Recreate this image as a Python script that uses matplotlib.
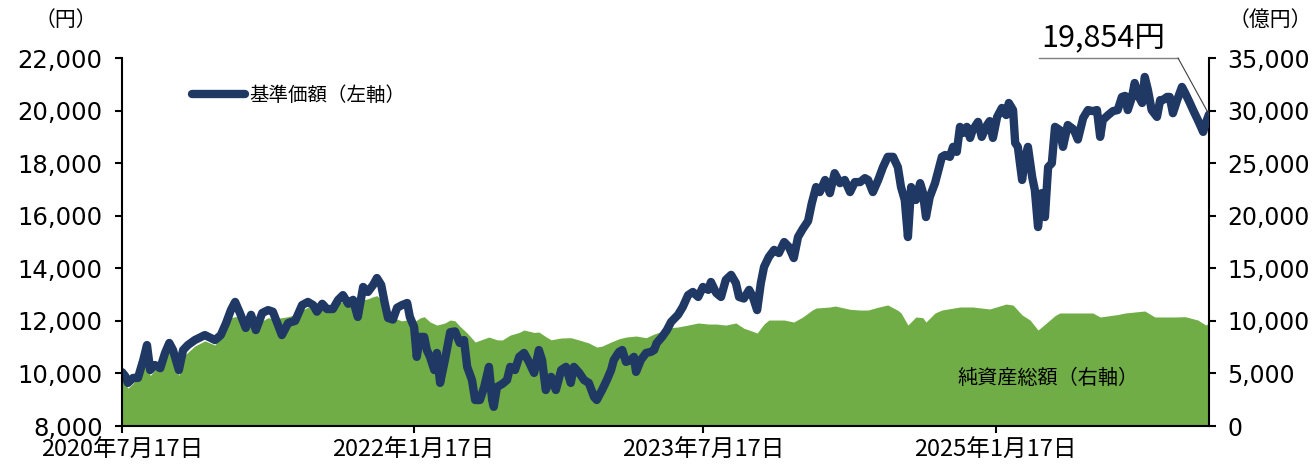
import pandas as pd
import matplotlib
matplotlib.use("Agg")
import matplotlib.pyplot as plt
from matplotlib.ticker import FuncFormatter

plt.rcParams['font.family'] = ['Noto Sans CJK JP', 'DejaVu Sans']

start = pd.Timestamp("2020-07-17")

# 基準価額 (円) : 設定日からの経過日数と値
price_days = [
    0, 6, 11, 21, 30, 40, 47, 53, 62, 72, 81, 89, 96, 107, 115, 124, 137, 156, 175, 186,
    196, 205, 213, 222, 233, 243, 252, 264, 275, 284, 301, 313, 326, 339, 350, 360, 367, 377, 386, 397,
    407, 416, 426, 435, 444, 454, 463, 473, 480, 488, 495, 501, 510, 518, 527, 537, 542, 550, 555, 561,
    569, 574, 580, 588, 593, 599, 608, 618, 627, 636, 644, 650, 659, 665, 674, 682, 691, 697, 700, 706,
    716, 725, 731, 740, 748, 757, 766, 776, 785, 791, 798, 808, 817, 827, 836, 845, 851, 861, 870, 879,
    889, 894, 904, 913, 921, 926, 936, 942, 949, 958, 964, 968, 977, 987, 996, 1002, 1007, 1017, 1026, 1034,
    1047, 1056, 1066, 1075, 1085, 1094, 1104, 1109, 1119, 1128, 1137, 1147, 1156, 1162, 1171, 1181, 1188, 1196, 1203, 1209,
    1218, 1228, 1237, 1247, 1256, 1265, 1273, 1282, 1292, 1299, 1307, 1314, 1324, 1333, 1342, 1352, 1361, 1371, 1380, 1390,
    1399, 1405, 1414, 1424, 1433, 1442, 1452, 1461, 1467, 1474, 1480, 1486, 1495, 1503, 1508, 1514, 1521, 1531, 1536, 1544,
    1550, 1559, 1565, 1572, 1578, 1584, 1591, 1597, 1602, 1612, 1619, 1629, 1634, 1640, 1648, 1657, 1665, 1670, 1678, 1682,
    1687, 1695, 1700, 1706, 1714, 1719, 1725, 1732, 1738, 1744, 1751, 1757, 1766, 1772, 1781, 1791, 1795, 1800, 1810, 1819,
    1828, 1836, 1842, 1847, 1857, 1866, 1875, 1883, 1889, 1894, 1902, 1907, 1915, 1921, 1926, 1932, 1939, 1949, 1955, 1960,
    1968, 1973, 1979, 1987, 1996, 2002, 2011, 2017, 2026, 2036, 2041, 2047,
]
price = [
    10050, 9900, 9640, 9830, 9830, 10510, 11080, 10130, 10320, 10200, 10780, 11160, 10890, 10130, 10890, 11080, 11270, 11460, 11270, 11460,
    11920, 12410, 12720, 12300, 11730, 12230, 11650, 12300, 12410, 12350, 11460, 11920, 12000, 12600, 12720, 12600, 12350, 12650, 12450, 12450,
    12800, 12980, 12650, 12800, 12150, 13290, 13100, 13370, 13630, 13370, 12650, 12110, 12050, 12500, 12600, 12680, 12150, 11770, 10630, 11390,
    11390, 10890, 10630, 10130, 10780, 9640, 10510, 11570, 11600, 11160, 11270, 10250, 9750, 8990, 8990, 9480, 10250, 8990, 8730, 9480,
    9600, 9750, 10250, 10130, 10630, 10780, 10450, 10020, 10890, 10510, 9370, 9870, 9370, 10130, 10250, 9640, 10250, 10020, 9750, 9640,
    9100, 8990, 9370, 9750, 10130, 10510, 10820, 10890, 10440, 10510, 10630, 10060, 10510, 10780, 10820, 10890, 11160, 11390, 11650, 11960,
    12230, 12530, 12980, 13100, 12910, 13290, 13180, 13480, 13060, 12910, 13560, 13750, 13440, 12910, 12850, 13180, 12910, 12410, 13440, 14050,
    14430, 14700, 14580, 15000, 14810, 14390, 15190, 15500, 15800, 16480, 17090, 16900, 17360, 16860, 17620, 17240, 17360, 16900, 17280, 17280,
    17430, 17360, 16900, 17360, 17850, 18240, 18240, 17850, 17090, 16600, 15190, 17090, 16600, 17240, 16900, 15950, 16710, 17240, 17620, 18240,
    18310, 18240, 18620, 18430, 19380, 19150, 19380, 18960, 19260, 19570, 19000, 19450, 19600, 18960, 19760, 20100, 19830, 20290, 20020, 18770,
    18620, 17360, 18120, 18620, 17470, 16980, 15570, 16860, 15950, 17850, 18000, 19380, 19260, 18620, 19450, 19300, 19150, 18900, 19720, 20020,
    19980, 20020, 19000, 19640, 19830, 19980, 20020, 20520, 20560, 20020, 20520, 21050, 20520, 20290, 21280, 20780, 20020, 19760, 20400, 20400,
    20520, 20520, 19900, 20400, 20900, 20670, 20290, 20020, 19640, 19190, 19530, 19854,
]

# 純資産総額 (億円)
assets_days = [
    0, 11, 21, 40, 47, 53, 62, 81, 89, 96, 107, 115, 137, 156, 175, 196, 205, 213, 222, 233,
    243, 252, 264, 275, 284, 301, 313, 326, 339, 350, 360, 367, 377, 386, 397, 407, 416, 426, 435, 444,
    454, 463, 473, 480, 488, 495, 501, 510, 527, 537, 550, 561, 569, 580, 593, 608, 618, 627, 636, 650,
    665, 682, 691, 706, 716, 731, 748, 757, 776, 785, 798, 808, 827, 845, 861, 879, 894, 904, 921, 936,
    949, 968, 987, 1002, 1017, 1026, 1047, 1066, 1085, 1104, 1119, 1137, 1156, 1171, 1188, 1196, 1209, 1218, 1247, 1265,
    1282, 1299, 1307, 1333, 1343, 1371, 1390, 1405, 1424, 1442, 1461, 1467, 1480, 1495, 1508, 1514, 1531, 1544, 1578, 1602,
    1634, 1665, 1678, 1695, 1710, 1725, 1732, 1757, 1766, 1791, 1800, 1828, 1842, 1875, 1889, 1926, 1945, 1983, 2002, 2026,
    2041, 2047,
]
assets = [
    4600, 3600, 4050, 5700, 6400, 4800, 5300, 6400, 7300, 6700, 4800, 6600, 7600, 8100, 7700, 9200, 10300, 10400, 10370, 9300,
    9800, 9200, 10000, 10300, 10200, 10300, 10400, 10600, 11000, 11300, 11200, 11000, 11400, 11300, 11300, 11700, 11800, 11500, 11700, 11300,
    12000, 12100, 12300, 12400, 12000, 11500, 11000, 10300, 10000, 10100, 9900, 10270, 10400, 9900, 9600, 9800, 10080, 10000, 9500, 8840,
    7990, 8300, 8460, 8200, 8180, 8650, 8900, 9130, 8900, 8940, 8500, 8200, 8370, 8400, 8180, 7900, 7510, 7600, 7990, 8300,
    8460, 8560, 8400, 8750, 9000, 9320, 9420, 9600, 9800, 9700, 9700, 9600, 9800, 9300, 9000, 8840, 9700, 10080, 10080, 9890,
    10370, 11000, 11220, 11320, 11410, 11100, 11030, 11030, 11300, 11510, 11000, 10750, 9600, 10370, 10300, 9890, 10750, 11030, 11320, 11320,
    11130, 11600, 11500, 10560, 10080, 9130, 9420, 10500, 10750, 10750, 10750, 10750, 10370, 10600, 10750, 10940, 10370, 10370, 10400, 10080,
    9600, 9800,
]

tick_dates = ["2020-07-17", "2022-01-17", "2023-07-17", "2025-01-17"]

price_dates = start + pd.to_timedelta(price_days, unit="D")
assets_dates = start + pd.to_timedelta(assets_days, unit="D")

navy = "#1F3864"
green = "#70AD47"

fig = plt.figure(figsize=(13.15, 4.66), dpi=100)
ax = fig.add_axes([0.0928, 0.0858, 0.8266, 0.7897])
ax2 = ax.twinx()

ax2.fill_between(assets_dates, assets, 0, color=green, lw=0)
ax.plot(price_dates, price, color=navy, lw=6, solid_capstyle="round", solid_joinstyle="round",
        label="基準価額（左軸）")

ax.set_zorder(ax2.get_zorder() + 1)
ax.patch.set_visible(False)

ax.set_xlim(price_dates[0], price_dates[-1])
ax.set_ylim(8000, 22000)
ax2.set_ylim(0, 35000)
ax.set_yticks(range(8000, 22001, 2000))
ax2.set_yticks(range(0, 35001, 5000))
fmt = FuncFormatter(lambda v, p: f"{int(v):,}")
ax.yaxis.set_major_formatter(fmt)
ax2.yaxis.set_major_formatter(fmt)

tds = pd.to_datetime(tick_dates)
ax.set_xticks(tds)
ax.set_xticklabels([f"{d.year}年{d.month}月{d.day}日" for d in tds])

for a in (ax, ax2):
    for s in a.spines.values():
        s.set_linewidth(1.5)
        s.set_color("black")
    a.spines["top"].set_visible(False)
ax.spines["right"].set_visible(False)
ax2.spines["left"].set_visible(False)
ax2.spines["bottom"].set_visible(False)

ax.tick_params(axis="y", labelsize=17.5, length=5, width=1.5, pad=9)
ax.tick_params(axis="x", labelsize=17, length=5, width=1.5, pad=4)
ax2.tick_params(axis="y", labelsize=17, length=5, width=1.5, pad=8)
plt.setp(ax.get_yticklabels(), family="DejaVu Sans")
plt.setp(ax2.get_yticklabels(), family="DejaVu Sans")

ax.legend(loc="center left", bbox_to_anchor=(0.0644, 0.8995), frameon=False, fontsize=14,
          handlelength=2.7, handletextpad=0.25, borderpad=0, borderaxespad=0)

ax.text(0.769, 0.13, "純資産総額（右軸）", transform=ax.transAxes, fontsize=14.5,
        ha="left", va="center")

fig.text(66 / 1315, 1 - 20 / 466, "（円）", fontsize=15, ha="center", va="center")
fig.text(1270 / 1315, 1 - 20 / 466, "（億円）", fontsize=15, ha="center", va="center")

# 直近値のラベル
ax.text(0.9025, 1.012, f"{price[-1]:,}円", transform=ax.transAxes, fontsize=22,
        ha="center", va="bottom")
ax.plot([0.8436, 0.9715], [1.0, 1.0], transform=ax.transAxes, color="#7F7F7F", lw=1.0, clip_on=False)
ax.annotate("", xy=(price_dates[-1], price[-1]), xytext=(0.9715, 1.0), textcoords="axes fraction",
            arrowprops=dict(arrowstyle="-", color="#404040", lw=0.8, shrinkA=0, shrinkB=0))

fig.savefig("out.png", dpi=100)
